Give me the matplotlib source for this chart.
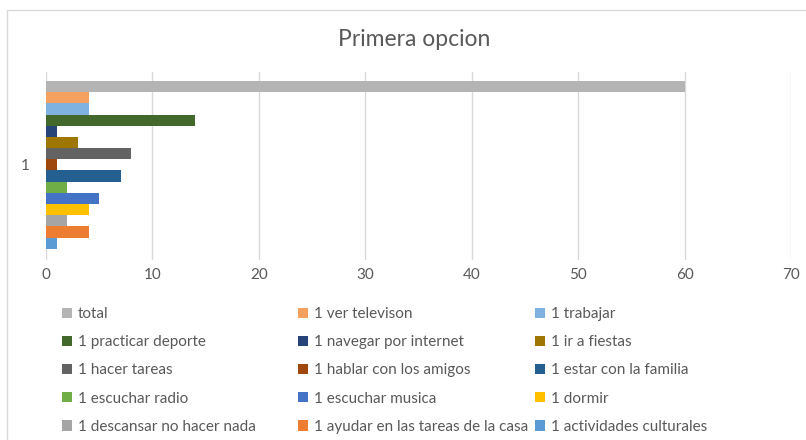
import matplotlib.pyplot as plt
from matplotlib.patches import Rectangle, Patch

plt.rcParams['font.family'] = ['Lato', 'DejaVu Sans']

series = ['total', '1 ver televison', '1 trabajar', '1 practicar deporte',
          '1 navegar por internet', '1 ir a fiestas', '1 hacer tareas',
          '1 hablar con los amigos', '1 estar con la familia', '1 escuchar radio',
          '1 escuchar musica', '1 dormir', '1 descansar no hacer nada',
          '1 ayudar en las tareas de la casa', '1 actividades culturales']
values = [60, 4, 4, 14, 1, 3, 8, 1, 7, 2, 5, 4, 2, 4, 1]
colors = ['#b4b4b4', '#f4a05f', '#7fb2e0', '#43682b', '#264478', '#9e7603',
          '#636363', '#9e480e', '#255e91', '#70ad47', '#4472c4', '#ffc000',
          '#a5a5a5', '#ed7d31', '#5b9bd5']
category = '1'
xticks = [0, 10, 20, 30, 40, 50, 60, 70]

txt = '#595959'
fig = plt.figure(figsize=(8.06, 4.40), dpi=100)
fig.patches.append(Rectangle((7 / 806, -0.1), 1.2, 1 - 10 / 440 + 0.1,
                             transform=fig.transFigure, fill=False,
                             edgecolor='#d9d9d9', linewidth=1))

ax = fig.add_axes([46 / 806, 1 - 260 / 440, 745 / 806, 188 / 440])
pos = list(range(len(values)))
ax.barh(pos, values, height=1.0, color=colors, zorder=3)
ax.set_ylim(len(values) - 0.5 + 1.0, -0.5 - 0.8)
ax.set_xlim(0, 70)
ax.set_xticks(xticks)
ax.set_yticks([(len(values) - 1) / 2])
ax.set_yticklabels([category])
ax.tick_params(length=0, labelsize=11, colors=txt)
ax.tick_params(axis='y', pad=12)
ax.tick_params(axis='x', pad=6)
ax.grid(axis='x', color='#d9d9d9', linewidth=1, zorder=0)
for s in ax.spines.values():
    s.set_visible(False)

fig.text(414 / 806, 1 - 40 / 440, 'Primera opcion', ha='center', va='center',
         fontsize=16.5, color=txt)

handles = [Patch(facecolor=c) for c in colors]
col_x = [62 / 806, 298 / 806, 535 / 806]
for k in range(3):
    fig.legend(handles[k::3], series[k::3], loc='upper left',
               bbox_to_anchor=(col_x[k], 1 - 307 / 440), frameon=False,
               fontsize=11, labelcolor=txt, handlelength=0.65,
               handleheight=0.65, handletextpad=0.4, labelspacing=0.93,
               borderaxespad=0, borderpad=0)

fig.savefig('out.png', dpi=100)
